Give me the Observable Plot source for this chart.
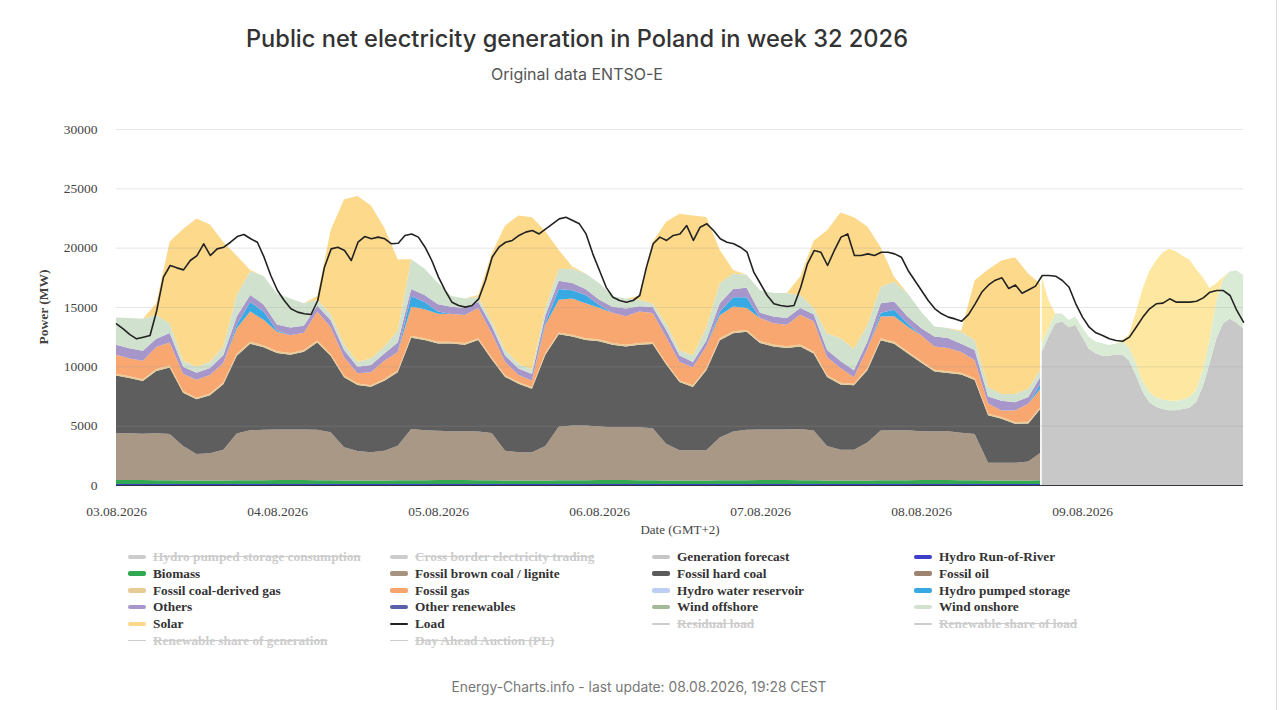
<!DOCTYPE html>
<html><head><meta charset="utf-8">
<script src="https://cdn.jsdelivr.net/npm/d3@7"></script>
<script src="https://cdn.jsdelivr.net/npm/@observablehq/plot@0.6"></script>
<style>
body{margin:0;background:#fff;width:1280px;height:710px;position:relative;overflow:hidden;}
#frame{position:absolute;left:0;top:0;width:1277px;height:710px;border-right:1px solid #dcdcdc;box-sizing:border-box;}
.t{position:absolute;white-space:nowrap;}
#title{left:0;width:1154px;text-align:center;top:27px;font:500 23.6px/24px Inter,sans-serif;color:#333;}
#subtitle{left:0;width:1154px;text-align:center;top:66px;font:400 16px/16px Inter,sans-serif;color:#555;}
#chart{position:absolute;left:0;top:100px;}
#ylabel{left:-16px;top:299px;width:120px;height:16px;text-align:center;transform:rotate(-90deg);font:bold 13.5px/16px 'Liberation Serif',serif;color:#444;}
#xlabel{left:580px;top:522px;width:200px;text-align:center;font:13px/16px 'Liberation Serif',serif;color:#444;}
#footer{left:0;width:1278px;text-align:center;top:680px;font:400 13.8px/14px Inter,sans-serif;color:#777;}
.li{position:absolute;height:16px;display:flex;align-items:center;font:bold 13.3px/16px 'Liberation Serif',serif;color:#333;white-space:nowrap;}
.li.off{color:#cccccc;text-decoration:line-through;}
.sw{display:inline-block;width:18px;margin-right:7px;border-radius:2px;}
</style></head><body>
<div id="frame"></div>
<div id="title" class="t">Public net electricity generation in Poland in week 32 2026</div>
<div id="subtitle" class="t">Original data ENTSO-E</div>
<div id="chart"></div>
<div id="ylabel" class="t">Power (MW)</div>
<div id="xlabel" class="t">Date (GMT+2)</div>
<div id="legend"></div>
<div id="footer" class="t">Energy-Charts.info - last update: 08.08.2026, 19:28 CEST</div>
<script>
// ---- time axis (hours since 03.08.2026 00:00) ----
const dayTicks = [0, 24, 48, 72, 96, 120, 144];
const dayLabels = ["03.08.2026", "04.08.2026", "05.08.2026", "06.08.2026", "07.08.2026", "08.08.2026", "09.08.2026"];
const yTicks = [0, 5000, 10000, 15000, 20000, 25000, 30000];

// ---- actual generation (MW), every 2 hours ----
const genHours = [0,2,4,6,8,10,12,14,16,18,20,22,24,26,28,30,32,34,36,38,40,42,44,46,48,50,52,54,56,58,60,62,64,66,68,70,72,74,76,78,80,82,84,86,88,90,92,94,96,98,100,102,104,106,108,110,112,114,116,118,120,122,124,126,128,130,132,134,136,137.75];
const runOfRiver = [90,90,90,90,90,80,80,80,80,90, 90,90,90,90,90,90,80,80,80,80, 80,90,90,90,90,90,90,90,80,80, 80,80,80,90,90,90,90,90,90,90, 80,80,80,80,80,90,90,90,90,90, 90,90,80,80,80,80,80,90,90,90, 90,90,90,90,80,80,80,80,80,80];
const biomass = [330,330,330,320,310,300,290,290,300,310, 320,320,330,330,330,320,310,300,290,290, 300,310,320,320,330,330,330,320,310,300, 290,290,300,310,320,320,330,330,330,320, 310,300,290,290,300,310,320,320,330,330, 330,320,310,300,290,290,300,310,320,320, 330,330,330,320,310,300,290,290,300,310];
const lignite = [3950,3950,3900,3950,3900,2900,2250,2300,2600,3950, 4200,4250,4250,4250,4250,4250,4050,2800,2500,2400, 2500,2900,4300,4200,4150,4100,4100,4100,4000,2500, 2400,2400,2900,4500,4600,4600,4500,4450,4450,4450, 4400,3100,2550,2550,2550,3600,4100,4250,4250,4250, 4250,4300,4200,2900,2600,2600,3200,4200,4200,4200, 4100,4100,4100,4000,3900,1500,1500,1500,1600,2300];
const hardCoal = [4850,4650,4450,5250,5600,4500,4600,4900,5500,6550, 7300,6950,6450,6300,6550,7350,6450,5900,5550,5500, 5900,6200,7700,7600,7350,7400,7300,7700,6200,6230, 5770,5350,7700,7800,7500,7200,7200,6950,6800,6950, 7100,6700,5750,5340,6750,8200,8280,8250,7290,7010, 6870,6960,6500,5830,5500,5430,6100,7600,7300,6500, 5800,5050,4910,4900,4550,4000,3720,3300,3200,3700];
const coalGas = [150,150,150,160,160,140,140,140,150,160, 160,160,150,150,150,160,150,140,140,140, 150,150,160,160,160,150,150,160,150,140, 140,140,150,160,160,160,160,150,150,160, 150,150,140,140,150,160,160,160,150,150, 150,160,150,140,140,140,150,160,160,150, 150,150,150,150,150,130,130,130,140,150];
const fossilGas = [1600,1500,1550,1850,1950,1450,1500,1550,1650,2150, 2550,2150,1650,1500,1450,2450,2250,1550,850,1100, 1550,1550,2450,2450,2350,2350,2350,2550,2050,1120, 580,550,2350,2750,3050,2950,2650,2550,2400,2650, 2450,2150,1550,1530,1850,1950,2100,1850,1960,1810, 1810,2520,2550,1520,1250,550,1650,1850,2150,2100, 2150,1960,1960,1750,1530,850,550,970,1530,1550];
const pumpedStorage = [0,0,0,0,0,0,0,0,0,300, 800,700,100,0,0,0,0,0,0,0, 0,0,900,600,200,0,0,0,0,0, 0,0,200,900,700,700,250,0,0,0, 0,0,0,0,0,300,770,900,0,0, 0,0,0,0,0,0,0,300,550,250, 0,0,0,0,0,0,0,0,0,400];
const others = [850,850,850,700,800,600,600,600,650,700, 600,600,500,650,600,500,600,600,550,600, 600,800,600,600,600,600,600,500,600,550, 550,550,600,700,600,500,450,500,650,450, 500,600,550,430,500,700,700,800,450,570, 570,560,600,600,600,570,600,800,700,600, 600,840,840,700,850,600,840,700,560,600];
const windOnshore = [2300,2550,2700,2000,800,500,500,500,750,1800, 2000,2400,2600,2450,1900,500,500,500,400,550, 600,1000,2500,2200,1800,900,800,400,400,450, 400,400,600,1000,1200,1300,1400,900,850,550, 300,500,450,550,1100,1700,1300,1100,1900,1960, 2100,1110,500,1400,1900,1800,1400,1400,1650,1950, 1400,840,840,1000,840,800,560,700,710,600];
const solar = [0,0,0,1000,6900,11100,12500,11600,8800,3300, 100,0,0,0,0,300,7100,12200,14000,12900, 10000,6000,0,0,0,0,0,200,5700,10500, 12500,12800,6500,1600,200,0,0,0,0,300, 5200,8600,11500,11800,9300,2800,300,0,0,0, 0,1560,5700,8700,10600,11100,8300,3300,400,0, 0,0,0,100,5050,9900,11240,11520,9690,7300];

// ---- forecast (MW), hourly ----
const forecastHours = [138,139,140,141,142,143,144,145,146,147,148,149,150,151,152,153,154,155,156,157,158,159,160,161,162,163,164,165,166,167,168];
const generationForecast = [11200,12500,13600,13800,13300,13500,12500,11500,11100,10900,10900,11000,11000,10500,9300,7900,7000,6600,6400,6300,6300,6400,6500,7000,8300,10200,12300,13600,14000,13700,13200];
const windForecast = [700,700,850,650,600,700,800,1000,1000,1050,900,900,1100,1100,1000,900,850,800,800,800,800,800,900,1000,1400,2000,3200,3700,4000,4400,4500];
const solarForecast = [5600,2400,0,0,0,0,0,0,0,0,0,0,100,1100,4200,7700,10150,11500,12400,12800,12600,12100,11600,10200,7800,4400,1500,200,0,0,0];

// ---- load (MW), hourly from 03.08 00:00 to 10.08 00:00 ----
const load = [13620,13200,12720,12360,12500,12640,14750,17560,18540,18340,
 18170,18960,19380,20370,19380,19940,20080,20500,20980,21150,
 20790,20500,19240,17700,16430,15590,14890,14610,14470,14410,
 15590,18400,19940,20080,19800,18960,20500,20980,20790,20930,
 20790,20370,20420,21070,21200,20930,20080,18960,17560,16430,
 15450,15170,15030,15170,15730,17275,19240,20080,20500,20650,
 21070,21350,21490,21200,21630,22050,22470,22610,22330,22050,
 21200,19520,18120,16700,15870,15590,15450,15590,16010,18400,
 20370,20930,20650,21070,21200,21900,20650,21770,22050,21490,
 20790,20500,20370,20080,19660,17980,17000,16010,15310,15170,
 15080,15170,16700,18680,19800,19660,18540,19800,20930,21200,
 19380,19380,19520,19380,19660,19660,19520,19240,18120,17275,
 16430,15590,14890,14470,14190,14040,13850,14400,15300,16300,
 16900,17300,17500,16600,16900,16200,16500,16800,17700,17700,
 17640,17275,16710,15310,14190,13340,12870,12640,12360,12220,
 12160,12500,13340,14190,14890,15310,15370,15730,15450,15450,
 15450,15530,15810,16290,16430,16430,16010,14750,13760];

// ---- series styling ----
const stackSeries = [
  {name: "Hydro Run-of-River", values: runOfRiver, color: "#3c3fc8"},
  {name: "Biomass", values: biomass, color: "#33a852"},
  {name: "Fossil brown coal / lignite", values: lignite, color: "#a99886"},
  {name: "Fossil hard coal", values: hardCoal, color: "#5e5e5e"},
  {name: "Fossil coal-derived gas", values: coalGas, color: "#e8cc95"},
  {name: "Fossil gas", values: fossilGas, color: "#f7a76f"},
  {name: "Hydro pumped storage", values: pumpedStorage, color: "#39a9e3"},
  {name: "Others", values: others, color: "#a796c9"},
  {name: "Wind onshore", values: windOnshore, color: "#d0e1cd"},
  {name: "Solar", values: solar, color: "#fcd98b"}
];
const forecastSeries = [
  {name: "Generation forecast", values: generationForecast, color: "#c8c8c8"},
  {name: "Wind onshore forecast", values: windForecast, color: "#d9ebd5"},
  {name: "Solar forecast", values: solarForecast, color: "#fde7a1"}
];

const actualRows = [];
stackSeries.forEach(s => genHours.forEach((h, i) => actualRows.push({h, series: s.name, value: s.values[i]})));
const forecastRows = [];
forecastSeries.forEach(s => forecastHours.forEach((h, i) => forecastRows.push({h, series: s.name, value: s.values[i]})));
const loadRows = load.map((v, i) => ({h: i, value: v}));

const allSeries = stackSeries.concat(forecastSeries);
const labelByTick = new Map(dayTicks.map((t, i) => [t, dayLabels[i]]));

const chart = Plot.plot({
  width: 1280, height: 450,
  marginLeft: 116, marginRight: 37, marginTop: 29, marginBottom: 65,
  style: {fontFamily: "'Liberation Serif', serif", fontSize: "13.5px", color: "#444", background: "transparent", overflow: "visible"},
  x: {type: "linear", domain: [0, 168]},
  y: {domain: [0, 30000]},
  color: {domain: allSeries.map(s => s.name), range: allSeries.map(s => s.color)},
  marks: [
    Plot.areaY(actualRows, {x: "h", y: "value", fill: "series", z: "series", order: stackSeries.map(s => s.name)}),
    Plot.areaY(forecastRows, {x: "h", y: "value", fill: "series", z: "series", order: forecastSeries.map(s => s.name)}),
    Plot.gridY(yTicks, {stroke: "#a0a0a0", strokeOpacity: 0.25}),
    Plot.ruleY([0], {stroke: "#2f3440", strokeWidth: 1.2}),
    Plot.line(loadRows, {x: "h", y: "value", stroke: "#222", strokeWidth: 1.6}),
    Plot.axisY(yTicks, {tickSize: 0, tickPadding: 19, tickFormat: d => String(d), label: null}),
    Plot.axisX(dayTicks, {tickSize: 0, tickPadding: 21, tickFormat: d => labelByTick.get(d), label: null})
  ]
});
document.getElementById("chart").appendChild(chart);

// ---- legend ----
const legendLabels = ["Hydro pumped storage consumption","Cross border electricity trading","Generation forecast","Hydro Run-of-River",
  "Biomass","Fossil brown coal / lignite","Fossil hard coal","Fossil oil",
  "Fossil coal-derived gas","Fossil gas","Hydro water reservoir","Hydro pumped storage",
  "Others","Other renewables","Wind offshore","Wind onshore",
  "Solar","Load","Residual load","Renewable share of load",
  "Renewable share of generation","Day Ahead Auction (PL)"];
const legendColors = ["#cccccc","#cccccc","#c6c6c6","#3c3fc8",
  "#33a852","#a69380","#5c5c5c","#9d8470",
  "#e8cc95","#f6a56c","#bccff2","#38a8e2",
  "#a897cb","#5a60a8","#a2b99a","#d3e2cf",
  "#fcd98a","#222222","#cccccc","#cccccc",
  "#cccccc","#cccccc"];
const legendIsLine = [false,false,false,false, false,false,false,false, false,false,false,false, false,false,false,false, false,true,true,true, true,true];
const legendOff = [true,true,false,false, false,false,false,false, false,false,false,false, false,false,false,false, false,false,true,true, true,true];
const colX = [128, 390, 652, 914];
const rowY = [557, 573.5, 590.5, 607, 624, 640.5];
const legend = document.getElementById("legend");
legendLabels.forEach((lab, i) => {
  const r = Math.floor(i / 4), c = i % 4;
  const d = document.createElement("div");
  d.className = "li" + (legendOff[i] ? " off" : "");
  d.style.left = colX[c] + "px";
  d.style.top = (rowY[r] - 8) + "px";
  const sw = document.createElement("span");
  sw.className = "sw";
  sw.style.height = legendIsLine[i] ? "1.6px" : "4.5px";
  sw.style.background = legendColors[i];
  d.appendChild(sw);
  const tx = document.createElement("span");
  tx.textContent = lab;
  d.appendChild(tx);
  legend.appendChild(d);
});
</script>
</body></html>
